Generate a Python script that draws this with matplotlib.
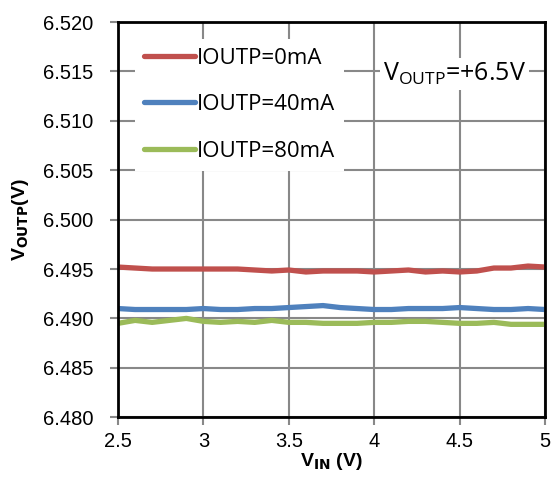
import matplotlib.pyplot as plt
import numpy as np

vin = [2.5, 2.6, 2.7, 2.8, 2.9, 3.0, 3.1, 3.2, 3.3, 3.4, 3.5, 3.6, 3.7,
       3.8, 3.9, 4.0, 4.1, 4.2, 4.3, 4.4, 4.5, 4.6, 4.7, 4.8, 4.9, 5.0]
v_0ma = [6.4952, 6.4951, 6.4950, 6.4950, 6.4950, 6.4950, 6.4950, 6.4950, 6.4949,
         6.4948, 6.4949, 6.4947, 6.4948, 6.4948, 6.4948, 6.4947, 6.4948, 6.4949,
         6.4947, 6.4948, 6.4947, 6.4948, 6.4951, 6.4951, 6.4953, 6.4952]
v_40ma = [6.4910, 6.4909, 6.4909, 6.4909, 6.4909, 6.4910, 6.4909, 6.4909, 6.4910,
          6.4910, 6.4911, 6.4912, 6.4913, 6.4911, 6.4910, 6.4909, 6.4909, 6.4910,
          6.4910, 6.4910, 6.4911, 6.4910, 6.4909, 6.4909, 6.4910, 6.4909]
v_80ma = [6.4895, 6.4898, 6.4896, 6.4898, 6.4900, 6.4897, 6.4896, 6.4897, 6.4896,
          6.4898, 6.4896, 6.4896, 6.4895, 6.4895, 6.4895, 6.4896, 6.4896, 6.4897,
          6.4897, 6.4896, 6.4895, 6.4895, 6.4896, 6.4894, 6.4894, 6.4894]
labels = ["IOUTP=0mA", "IOUTP=40mA", "IOUTP=80mA"]
colors = ["#c0504d", "#4f81bd", "#9bbb59"]

fig = plt.figure(figsize=(5.54, 4.79), dpi=100)
ax = fig.add_axes([0.213, 0.129, 0.771, 0.825])

for ys, lab, c in zip([v_0ma, v_40ma, v_80ma], labels, colors):
    ax.plot(vin, ys, color=c, lw=3.8, label=lab, solid_capstyle="round")

ax.set_xlim(2.5, 5)
ax.set_ylim(6.480, 6.520)
ax.set_xticks(np.arange(2.5, 5.01, 0.5))
ax.set_xticklabels(["2.5", "3", "3.5", "4", "4.5", "5"])
ax.set_yticks(np.arange(6.480, 6.5201, 0.005))
ax.set_yticklabels(["%.3f" % v for v in np.arange(6.480, 6.5201, 0.005)])
ax.grid(True, color="#888888", lw=1.5)
ax.set_axisbelow(True)
for s in ax.spines.values():
    s.set_color("black")
    s.set_linewidth(2)
ax.tick_params(direction="out", length=6, width=1.5, color="#888888",
               labelsize=14.5, labelcolor="black")
ax.tick_params(axis="y", pad=12)
ax.tick_params(axis="x", pad=5)
for t in ax.get_xticklabels() + ax.get_yticklabels():
    t.set_family("Liberation Sans")

ax.set_xlabel("V$_{\\mathbf{IN}}$ (V)", fontsize=14, fontweight="bold",
              family="Liberation Sans", labelpad=0)
ax.set_ylabel("V$_{\\mathbf{OUTP}}$(V)", fontsize=14, fontweight="bold",
              family="Liberation Sans", labelpad=8)

leg = ax.legend(loc="upper left", frameon=True, handlelength=2.3,
                prop={"family": "Open Sans", "size": 16}, labelspacing=1.15,
                borderaxespad=0.75, handletextpad=0.1, fancybox=False)
leg.get_frame().set_edgecolor("none")
leg.get_frame().set_facecolor("white")
leg.get_frame().set_alpha(1)

ax.text(0.955, 0.868, "V$_{\\mathregular{OUTP}}$=+6.5V", transform=ax.transAxes,
        ha="right", va="center", fontsize=18, family="Open Sans",
        bbox=dict(facecolor="white", edgecolor="none", pad=2))

fig.savefig("out.png", dpi=100)
